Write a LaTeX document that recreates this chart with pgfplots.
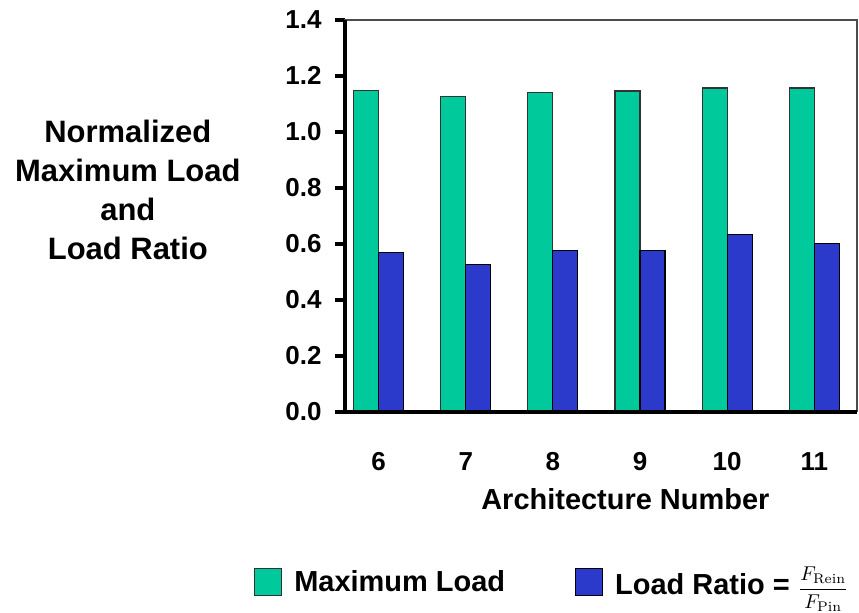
\documentclass[border=0pt]{standalone}
\usepackage{fontspec}
\setmainfont{Liberation Sans}
\usepackage{pgfplots}
\pgfplotsset{compat=1.18}
\definecolor{maxload}{RGB}{0,202,155}
\definecolor{ratio}{RGB}{43,58,202}
\newcommand{\sub}[1]{\text{\fontfamily{lmr}\fontseries{m}\selectfont #1}}
\usepackage{amsmath}

\begin{document}
\begin{tikzpicture}
\begin{axis}[
    scale only axis,
    width=256.5pt, height=196pt,
    clip=false,
    ybar, bar width=12.5pt,
    xmin=5.61, xmax=11.49,
    ymin=0, ymax=1.4,
    ytick={0,0.2,...,1.4},
    xtick={6,...,11},
    axis line style={draw=black!70, line width=0.6pt},
    ytick pos=left, tick align=outside,
    major tick length=5pt,
    ytick style={line width=2pt, black},
    xtick style={draw=none},
    /pgf/number format/assume math mode=true,
    /pgf/number format/.cd, fixed, fixed zerofill, precision=1, /tikz/.cd,
    yticklabel style={font=\fontsize{13}{14}\selectfont\bfseries, xshift=-3pt},
    xticklabel style={font=\fontsize{13}{14}\selectfont\bfseries, yshift=-12pt},
    xticklabel={\pgfmathprintnumber[precision=0]{\tick}},
    legend columns=2,
    legend style={draw=none, fill=none, at={(-0.189,-0.436)}, anchor=west,
        font=\fontsize{14.5}{16}\selectfont\bfseries,
        /tikz/every odd column/.append style={column sep=4pt},
        /tikz/every even column/.append style={column sep=33pt}},
    legend image code/.code={\draw[#1, bar shift=0pt] (0pt,-6.75pt) rectangle (13.5pt,6.75pt);},
]
\addplot[fill=maxload, draw=black!80, line width=0.6pt, bar shift=-6.25pt] coordinates {
  (6,1.148) (7,1.125) (8,1.142) (9,1.146) (10,1.157) (11,1.157)
};
\addplot[fill=ratio, draw=black, line width=0.6pt, bar shift=6.25pt] coordinates {
  (6,0.570) (7,0.527) (8,0.577) (9,0.577) (10,0.633) (11,0.600)
};
\legend{Maximum Load, {Load Ratio = {\fontsize{10}{12}\selectfont$\displaystyle\frac{F_{\sub{Rein}}}{F_{\sub{Pin}}}$}}}
\draw[black, line width=2pt] (rel axis cs:0,1) -- (rel axis cs:0,0) -- (rel axis cs:1,0);
\node[align=center, font=\fontsize{15.5}{19.5}\selectfont\bfseries]
  at (rel axis cs:-0.423,0.566) {Normalized\\Maximum Load\\and\\Load Ratio};
\node[font=\fontsize{14.5}{16}\selectfont\bfseries] at (rel axis cs:0.548,-0.225) {Architecture Number};
\path (rel axis cs:-0.6725,-0.5128) rectangle (rel axis cs:1.002,1.051);
\end{axis}
\end{tikzpicture}
\end{document}
